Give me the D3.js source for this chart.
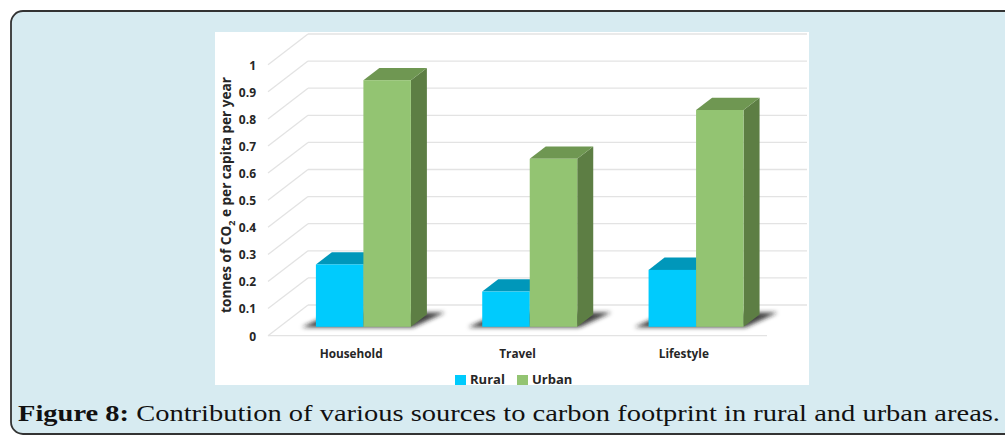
<!DOCTYPE html>
<html>
<head>
<meta charset="utf-8">
<script src="https://cdn.jsdelivr.net/npm/d3@7"></script>
<style>
  html, body { margin: 0; padding: 0; background: #fff; }
  svg { display: block; }
</style>
</head>
<body>
<div id="chart-area"></div>
<script>
// data
const categories = ['Household', 'Travel', 'Lifestyle'];
const series = ['Rural', 'Urban'];
const rural = [0.23, 0.13, 0.21];
const urban = [0.91, 0.62, 0.80];
const yTicks = [0, 0.1, 0.2, 0.3, 0.4, 0.5, 0.6, 0.7, 0.8, 0.9, 1];
const yTitle = ['tonnes of CO', '2', ' e per capita per year'];
const caption = ['Figure 8:', ' Contribution of various sources to carbon footprint in rural and urban areas.'];

const W = 1005, H = 436;

// chart picture placement
const plot = { x: 215, y: 32, w: 594, h: 353 };
const front = { left: 268, right: 767, floor: 335.7 };
const depth = { dx: 40, dy: -30.7 };       // front plane -> back wall
const barDepth = { start: 0.29, size: 0.4 }; // fractions of the depth

const colors = {
  Rural: { front: '#00cbfd', top: '#0097ba', side: '#0086a6' },
  Urban: { front: '#93c472', top: '#6f9752', side: '#5d7e44' }
};

const svg = d3.select('#chart-area')
  .append('svg')
    .attr('width', W)
    .attr('height', H);

const defs = svg.append('defs');
defs.append('filter')
    .attr('id', 'soft')
    .attr('x', '-50%').attr('y', '-50%').attr('width', '200%').attr('height', '200%')
  .append('feGaussianBlur')
    .attr('stdDeviation', 2.2);

// outer figure box
svg.append('rect')
  .attr('x', 11)
  .attr('y', 11)
  .attr('width', 1020)
  .attr('height', 423)
  .attr('rx', 12)
  .attr('fill', '#d7ebf1')
  .attr('stroke', '#333')
  .attr('stroke-width', 1.8);

// white chart area
svg.append('rect')
  .attr('x', plot.x)
  .attr('y', plot.y)
  .attr('width', plot.w)
  .attr('height', plot.h)
  .attr('fill', '#fff');

const chart = svg.append('g');

// scales
const scaleY = d3.scaleLinear()
  .domain([0, 1])
  .range([front.floor, front.floor - 271]);

const scaleH = d3.scaleLinear()
  .domain([0, 1])
  .range([0, 271]);

const scaleX = d3.scaleBand()
  .domain(categories)
  .range([front.left, front.right]);

const scaleSeries = d3.scaleBand()
  .domain(series)
  .range([36.3, 36.3 + 95]);

// clip to the picture
defs.append('clipPath')
    .attr('id', 'clip')
  .append('rect')
    .attr('x', plot.x).attr('y', plot.y).attr('width', plot.w).attr('height', plot.h);

const grid = chart.append('g').attr('clip-path', 'url(#clip)');

// back wall gridlines
grid.selectAll('.back')
  .data(yTicks)
  .enter()
  .append('line')
    .attr('x1', front.left + depth.dx)
    .attr('x2', front.right + depth.dx)
    .attr('y1', d => scaleY(d) + depth.dy)
    .attr('y2', d => scaleY(d) + depth.dy)
    .attr('stroke', '#e3e3e3')
    .attr('stroke-width', 1.3);

// side wall gridlines
grid.selectAll('.side')
  .data(yTicks)
  .enter()
  .append('line')
    .attr('x1', front.left)
    .attr('x2', front.left + depth.dx)
    .attr('y1', d => scaleY(d))
    .attr('y2', d => scaleY(d) + depth.dy)
    .attr('stroke', '#e3e3e3')
    .attr('stroke-width', 1.3);

// front floor edge
grid.append('line')
  .attr('x1', front.left)
  .attr('x2', front.right)
  .attr('y1', front.floor)
  .attr('y2', front.floor)
  .attr('stroke', '#e3e3e3')
  .attr('stroke-width', 1.3);

// bars
const ox = depth.dx * barDepth.start;
const oy = depth.dy * barDepth.start;
const bx = depth.dx * barDepth.size;
const by = depth.dy * barDepth.size;
const bw = scaleSeries.bandwidth();
const base = front.floor + oy;

const values = { Rural: rural, Urban: urban };

categories.forEach((cat, i) => {
  const g = chart.append('g');
  const xl = scaleX(cat) + scaleSeries('Rural') + ox;
  const xr = scaleX(cat) + scaleSeries('Urban') + bw + ox;

  // shadow on the floor
  g.append('polygon')
    .attr('points', [
      [xl - 14, base + 0.5],
      [xr + 2, base + 0.5],
      [xr + bx + 18, base + by - 2],
      [xl + 18, base + by - 2]
    ].join(' '))
    .attr('fill', '#222')
    .attr('fill-opacity', 0.85)
    .attr('filter', 'url(#soft)');

  series.forEach(s => {
    const v = values[s][i];
    const x0 = scaleX(cat) + scaleSeries(s) + ox;
    const x1 = x0 + bw;
    const yt = base - scaleH(v);
    const c = colors[s];

    g.append('polygon')
      .attr('points', [[x1, yt], [x1 + bx, yt + by], [x1 + bx, base + by], [x1, base]].join(' '))
      .attr('fill', c.side);

    g.append('polygon')
      .attr('points', [[x0, yt], [x1, yt], [x1 + bx, yt + by], [x0 + bx, yt + by]].join(' '))
      .attr('fill', c.top);

    g.append('rect')
      .attr('x', x0)
      .attr('y', yt)
      .attr('width', bw)
      .attr('height', base - yt)
      .attr('fill', c.front);
  });
});

// value axis labels
const axisY = d3.axisLeft(scaleY)
  .tickValues(yTicks)
  .tickFormat(d3.format('~g'))
  .tickSize(0)
  .tickPadding(0);

const gAxisY = chart.append('g')
  .attr('transform', 'translate(256, 0.5)')
  .call(axisY);
gAxisY.select('.domain').remove();
gAxisY.selectAll('text')
  .attr('font-family', '"Open Sans", sans-serif')
  .attr('font-weight', 700)
  .attr('font-size', 12)
  .attr('fill', '#262626');

// category labels
chart.selectAll('.cat')
  .data(categories)
  .enter()
  .append('text')
    .attr('x', d => scaleX(d) + scaleX.bandwidth() / 2)
    .attr('y', 358)
    .attr('text-anchor', 'middle')
    .attr('font-family', '"Open Sans", sans-serif')
    .attr('font-weight', 700)
    .attr('font-size', 11.8)
    .attr('fill', '#262626')
    .text(d => d);

// value axis title
const title = chart.append('text')
  .attr('text-anchor', 'middle')
  .attr('transform', 'translate(231, 195) rotate(-90)')
  .attr('font-family', '"Open Sans", sans-serif')
  .attr('font-weight', 700)
  .attr('font-size', 13.6)
  .attr('fill', '#262626');
title.append('tspan').text(yTitle[0]);
title.append('tspan').attr('font-size', 9).attr('dy', 3.5).text(yTitle[1]);
title.append('tspan').attr('dy', -3.5).text(yTitle[2]);

// legend
const legend = chart.append('g').attr('transform', 'translate(455, 0)');
const legendX = [0, 62];
series.forEach((s, i) => {
  const row = legend.append('g')
    .attr('transform', `translate(${legendX[i]}, 0)`);
  row.append('rect')
    .attr('x', 0)
    .attr('y', 375)
    .attr('width', 11)
    .attr('height', 10)
    .attr('fill', colors[s].front);
  row.append('text')
    .attr('x', 15)
    .attr('y', 384)
    .attr('font-family', '"Open Sans", sans-serif')
    .attr('font-weight', 700)
    .attr('font-size', 13)
    .attr('fill', '#262626')
    .text(s);
});

// caption
const cap = svg.append('text')
  .attr('x', 18)
  .attr('y', 421)
  .attr('font-family', '"Liberation Serif", serif')
  .attr('font-size', 24)
  .attr('fill', '#111')
  .attr('textLength', 982)
  .attr('lengthAdjust', 'spacingAndGlyphs');
cap.append('tspan').attr('font-weight', 700).text(caption[0]);
cap.append('tspan').text(caption[1]);
</script>
</body>
</html>
